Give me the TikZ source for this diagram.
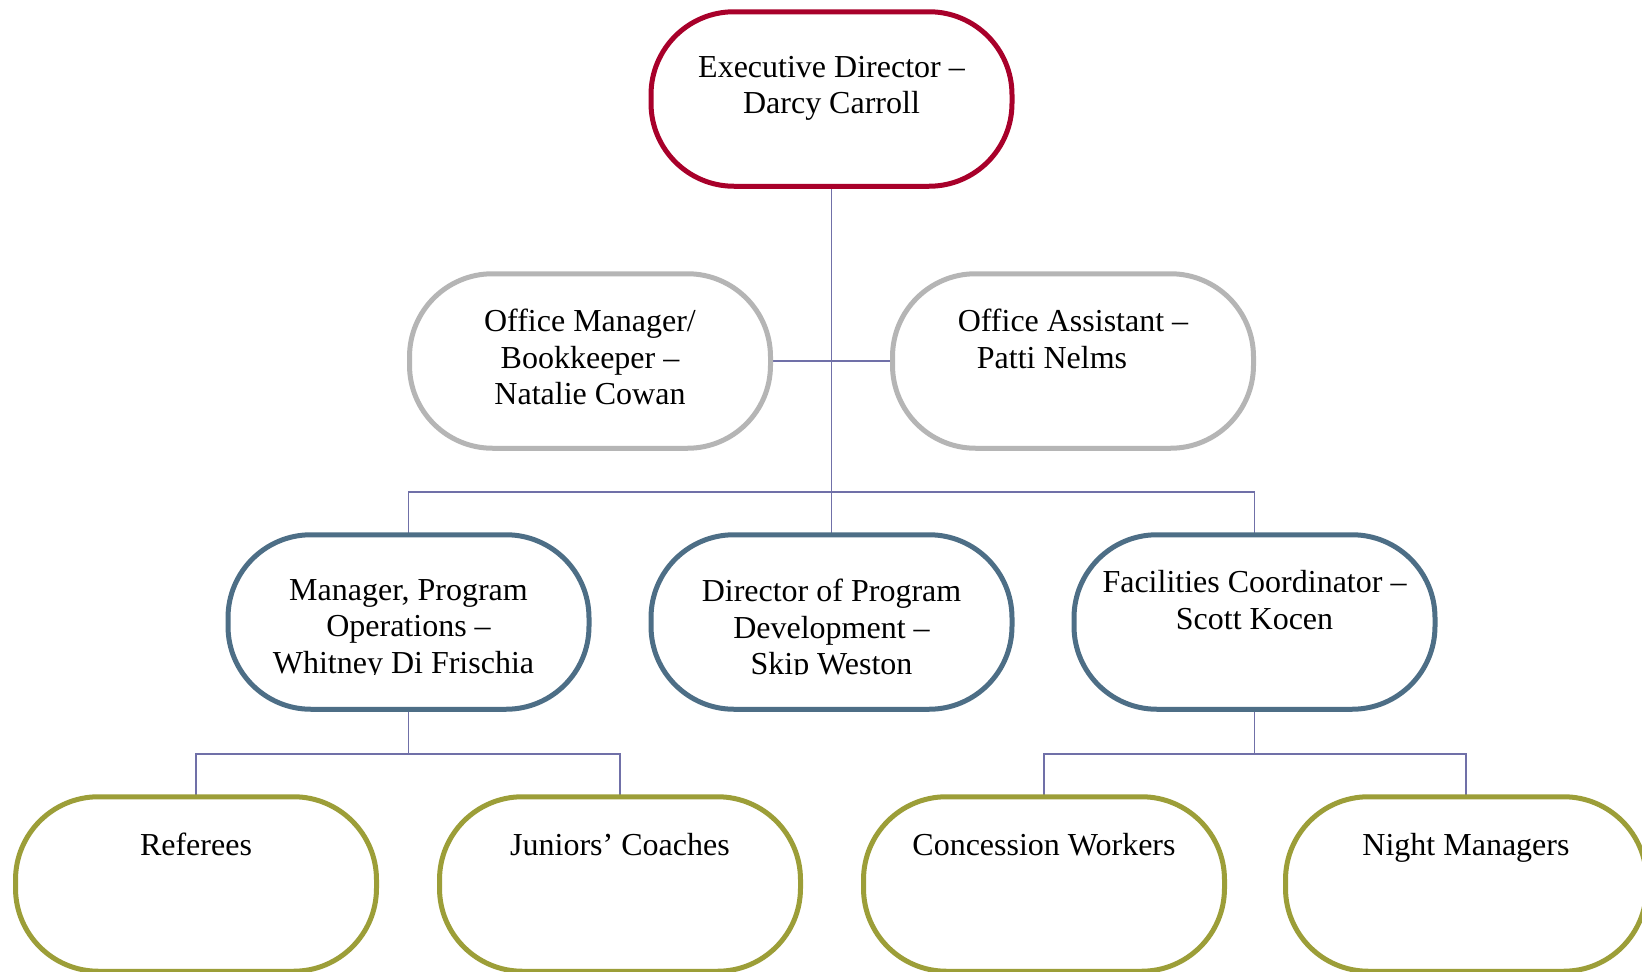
\documentclass[tikz,border=0pt]{standalone}
\usepackage{fontspec}
\setmainfont{Liberation Serif}
\usetikzlibrary{backgrounds,calc}
\definecolor{edred}{HTML}{A8002A}
\definecolor{offgrey}{HTML}{B5B5B5}
\definecolor{mgrblue}{HTML}{4D6E86}
\definecolor{staffolive}{HTML}{9C9E38}
\definecolor{conn}{HTML}{7070A8}
\begin{document}
\begin{tikzpicture}[x=1pt,y=-1pt,
  box/.style={draw,fill=white,line width=5pt,rounded corners=83pt,
    minimum width=361pt,minimum height=174.5pt,inner sep=0pt,outer sep=0pt},
  edbox/.style={box,draw=edred},
  offbox/.style={box,draw=offgrey},
  mgrbox/.style={box,draw=mgrblue},
  staffbox/.style={box,draw=staffolive},
  txt/.style={anchor=north,inner sep=0pt,align=center,
    font=\fontsize{32}{36.5}\selectfont},
  link/.style={draw=conn,line width=1.8pt}]
\useasboundingbox (0,0) rectangle (1642,972);
\clip (0,0) rectangle (1642,972);
% nodes
\node[edbox] (ed) at (831.5,99) {};
\node[offbox] (om) at (590,361) {};
\node[offbox] (oa) at (1073,361) {};
\node[mgrbox] (mpo) at (408.5,622) {};
\node[mgrbox] (dpd) at (831.5,622) {};
\node[mgrbox] (fc) at (1254.5,622) {};
\node[staffbox] (ref) at (196,884) {};
\node[staffbox] (jc) at (620,884) {};
\node[staffbox] (cw) at (1044,884) {};
\node[staffbox] (nm) at (1466,884) {};
% texts
\node[txt] at ($(ed.north)+(0,44)$) {Executive Director –\\Darcy Carroll};
\node[txt] at ($(om.north)+(0,35.5)$) {Office Manager/\\Bookkeeper –\\Natalie Cowan};
\node[txt] at ($(oa.north)+(0,35.5)$) {Office Assistant –\\Patti Nelms\hspace*{42pt}};
\begin{scope}
\clip (0,540) rectangle (1642,674);
\node[txt] at ($(mpo.north)+(0,44.5)$) {Manager, Program\\Operations –\\Whitney Di Frischia\hspace*{10pt}};
\node[txt] at ($(dpd.north)+(0,44.5)$) {Director of Program\\Development –\\Skip Weston};
\end{scope}
\node[txt] at ($(fc.north)+(0,35.5)$) {Facilities Coordinator –\\Scott Kocen};
\node[txt] at ($(ref.north)+(0,36)$) {Referees};
\node[txt] at ($(jc.north)+(0,36)$) {Juniors’ Coaches};
\node[txt] at ($(cw.north)+(0,36)$) {Concession Workers};
\node[txt] at ($(nm.north)+(0,36)$) {Night Managers};
% connectors
\coordinate (bus1) at (831.5,492);
\coordinate (bus2) at (408.5,754);
\coordinate (bus3) at (1254.5,754);
\begin{pgfonlayer}{background}
\draw[link] (ed.south) -- (dpd.north);
\draw[link] (om.east) -- (oa.west);
\draw[link] (mpo.north) |- (bus1) -| (fc.north);
\draw[link] (mpo.south) -- (bus2);
\draw[link] (ref.north) |- (bus2) -| (jc.north);
\draw[link] (fc.south) -- (bus3);
\draw[link] (cw.north) |- (bus3) -| (nm.north);
\end{pgfonlayer}
\end{tikzpicture}
\end{document}
